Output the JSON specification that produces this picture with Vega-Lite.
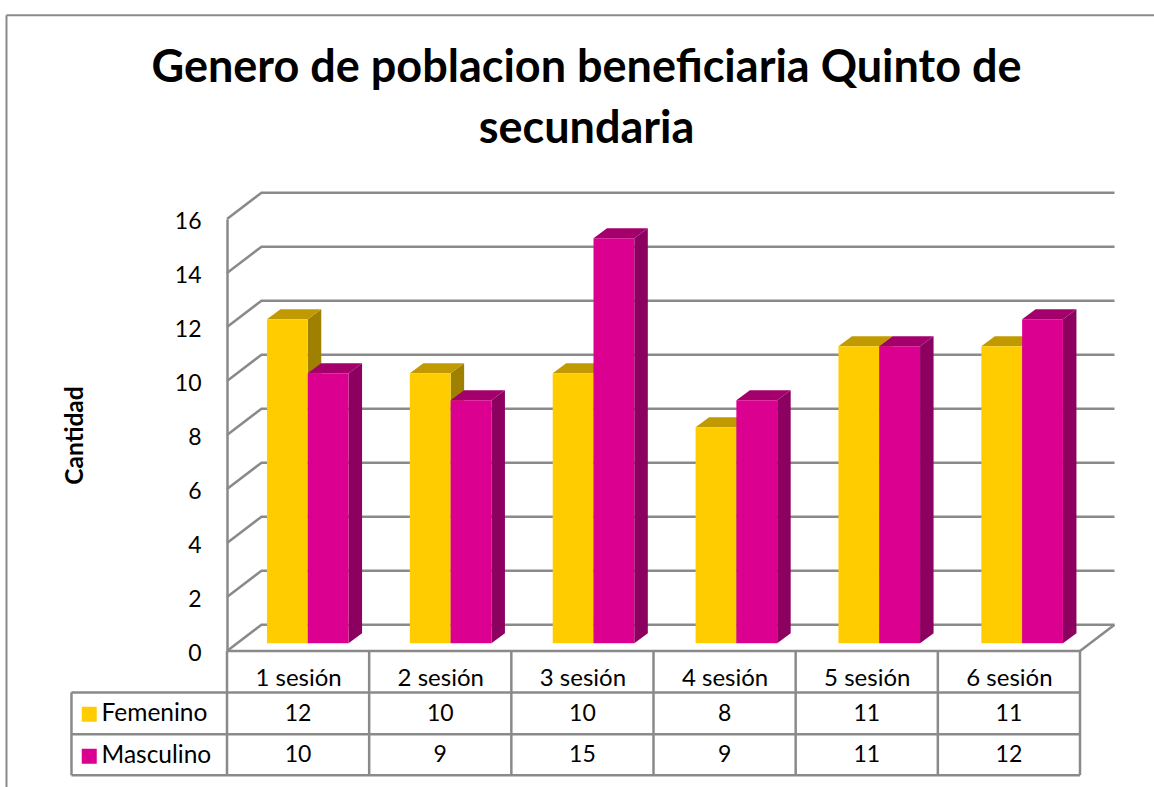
{
"$schema":"https://vega.github.io/schema/vega-lite/v6.json",
"width":853,"height":432,
"autosize":{"type":"none"},
"padding":{"left":227,"top":219,"right":74,"bottom":136},
"background":"white",
"view":{"stroke":null},
"title":{"text":["Genero de poblacion beneficiaria Quinto de","secundaria"],"font":"Lato","fontSize":45,"fontWeight":"bold","color":"black","anchor":"middle","dx":-67,"offset":-138,"lineHeight":61},
"datasets":{
"barras":[
{"sesion":"1 sesión","idx":0,"genero":"Femenino","valor":12},{"sesion":"1 sesión","idx":0,"genero":"Masculino","valor":10},
{"sesion":"2 sesión","idx":1,"genero":"Femenino","valor":10},{"sesion":"2 sesión","idx":1,"genero":"Masculino","valor":9},
{"sesion":"3 sesión","idx":2,"genero":"Femenino","valor":10},{"sesion":"3 sesión","idx":2,"genero":"Masculino","valor":15},
{"sesion":"4 sesión","idx":3,"genero":"Femenino","valor":8},{"sesion":"4 sesión","idx":3,"genero":"Masculino","valor":9},
{"sesion":"5 sesión","idx":4,"genero":"Femenino","valor":11},{"sesion":"5 sesión","idx":4,"genero":"Masculino","valor":11},
{"sesion":"6 sesión","idx":5,"genero":"Femenino","valor":11},{"sesion":"6 sesión","idx":5,"genero":"Masculino","valor":12}
],
"grid":[{"valor":0},{"valor":2},{"valor":4},{"valor":6},{"valor":8},{"valor":10},{"valor":12},{"valor":14},{"valor":16}],
"columnas":[{"col":0},{"col":1},{"col":2},{"col":3},{"col":4},{"col":5},{"col":6}],
"filas":[{"fila":0},{"fila":1},{"fila":2},{"fila":3}],
"bordes":[{"borde":"superior"},{"borde":"izquierdo"}]
},
"encoding":{
"x":{"field":"px","type":"quantitative","scale":{"domain":[0,6],"nice":false,"zero":false},
"axis":{"title":null,"values":[0.5,1.5,2.5,3.5,4.5,5.5],"labelExpr":"(datum.value+0.5)+' sesión'","domain":false,"ticks":false,"grid":false,"labelFont":"Lato","labelFontSize":24,"labelColor":"black","labelPadding":15}},
"y":{"field":"py","type":"quantitative","scale":{"domain":[0,16],"nice":false,"zero":false},
"axis":{"title":"Cantidad","titleFont":"Lato","titleFontSize":24.5,"titleFontWeight":"bold","titleColor":"black","titlePadding":87,"values":[0,2,4,6,8,10,12,14,16],"grid":false,"ticks":false,"domain":true,"domainColor":"#8a8a8a","domainWidth":2.5,"labelFont":"Lato","labelFontSize":23,"labelColor":"black","labelPadding":26,"labelOffset":2.5}}
},
"layer":[
{"data":{"name":"grid"},
"transform":[{"calculate":"[0,1,2]","as":"t"},{"flatten":["t"]},{"calculate":"datum.t==0?0:(datum.t==1?0.2427:6.2427)","as":"px"},{"calculate":"datum.valor+(datum.t==0?0:0.975)","as":"py"}],
"mark":{"type":"line","color":"#8a8a8a","strokeWidth":2.5,"interpolate":"linear"},
"encoding":{"detail":{"field":"valor"},"order":{"field":"t"}}},
{"data":{"name":"grid"},
"transform":[{"filter":"datum.valor==0"},{"calculate":"[0,1]","as":"t"},{"flatten":["t"]},{"calculate":"6+datum.t*0.2427","as":"px"},{"calculate":"datum.t*0.975","as":"py"}],
"mark":{"type":"line","color":"#8a8a8a","strokeWidth":2.5},
"encoding":{"order":{"field":"t"}}},
{"data":{"name":"columnas"},
"transform":[{"calculate":"datum.col","as":"px"},{"calculate":"0","as":"py"},{"calculate":"-4.6","as":"pb"}],
"mark":{"type":"rule","color":"#8a8a8a","strokeWidth":2.5},
"encoding":{"y2":{"field":"pb"}}},
{"data":{"name":"filas"},
"transform":[{"calculate":"datum.fila==0?0:-1.094","as":"px"},{"calculate":"6","as":"pd"},{"calculate":"[0,-1.535,-3.08,-4.6][datum.fila]","as":"py"}],
"mark":{"type":"rule","color":"#8a8a8a","strokeWidth":2.5},
"encoding":{"x2":{"field":"pd"}}},
{"data":{"name":"filas"},
"transform":[{"filter":"datum.fila==1"},{"calculate":"-1.094","as":"px"},{"calculate":"-1.535","as":"py"},{"calculate":"-4.6","as":"pb"}],
"mark":{"type":"rule","color":"#8a8a8a","strokeWidth":2.5},
"encoding":{"y2":{"field":"pb"}}},
{"data":{"name":"bordes"},
"transform":[{"calculate":"-1.551","as":"px"},{"calculate":"datum.borde=='superior'?6.53:-1.551","as":"pd"},{"calculate":"23.55","as":"py"},{"calculate":"datum.borde=='superior'?23.55:-5.1","as":"pb"}],
"mark":{"type":"rule","color":"#8a8a8a","strokeWidth":2},
"encoding":{"x2":{"field":"pd"},"y2":{"field":"pb"}}},

{"data":{"name":"barras"},
"transform":[{"filter":"datum.genero=='Femenino'"},{"calculate":"[0,1]","as":"t"},{"flatten":["t"]},{"calculate":"0.281+1.005*datum.idx+0.287+datum.t*0.095","as":"px"},{"calculate":"0.29+datum.t*0.37","as":"py"},{"calculate":"datum.valor+0.29+datum.t*0.37","as":"ptop"}],
"mark":{"type":"area","color":"#A08000","orient":"vertical"},
"encoding":{"y2":{"field":"ptop"},"detail":{"field":"sesion"}}},
{"data":{"name":"barras"},
"transform":[{"filter":"datum.genero=='Femenino'"},{"calculate":"[0,1]","as":"t"},{"flatten":["t"]},{"calculate":"0.281+1.005*datum.idx+datum.t*0.095","as":"px"},{"calculate":"datum.px+0.287","as":"pd"},{"calculate":"datum.valor+0.29+datum.t*0.37","as":"py"}],
"mark":{"type":"area","color":"#C09A00","orient":"horizontal"},
"encoding":{"x2":{"field":"pd"},"detail":{"field":"sesion"}}},
{"data":{"name":"barras"},
"transform":[{"filter":"datum.genero=='Masculino'"},{"calculate":"[0,1]","as":"t"},{"flatten":["t"]},{"calculate":"0.281+1.005*datum.idx+0.574+datum.t*0.095","as":"px"},{"calculate":"0.29+datum.t*0.37","as":"py"},{"calculate":"datum.valor+0.29+datum.t*0.37","as":"ptop"}],
"mark":{"type":"area","color":"#8C0060","orient":"vertical"},
"encoding":{"y2":{"field":"ptop"},"detail":{"field":"sesion"}}},
{"data":{"name":"barras"},
"transform":[{"filter":"datum.genero=='Masculino'"},{"calculate":"[0,1]","as":"t"},{"flatten":["t"]},{"calculate":"0.281+1.005*datum.idx+0.287+datum.t*0.095","as":"px"},{"calculate":"datum.px+0.287","as":"pd"},{"calculate":"datum.valor+0.29+datum.t*0.37","as":"py"}],
"mark":{"type":"area","color":"#A3006C","orient":"horizontal"},
"encoding":{"x2":{"field":"pd"},"detail":{"field":"sesion"}}},
{"data":{"name":"barras"},
"transform":[{"calculate":"0.281+1.005*datum.idx+(datum.genero=='Masculino'?0.287:0)","as":"px"},{"calculate":"datum.px+0.287","as":"pd"},{"calculate":"datum.valor+0.29","as":"py"},{"calculate":"0.29","as":"pb"}],
"mark":{"type":"rect"},
"encoding":{"x2":{"field":"pd"},"y2":{"field":"pb"},
"color":{"field":"genero","type":"nominal","scale":{"domain":["Femenino","Masculino"],"range":["#FFCC00","#DB0090"]},
"legend":{"title":null,"orient":"none","legendX":-150,"legendY":483,"symbolType":"square","symbolSize":225,"symbolStrokeWidth":0,"labelFont":"Lato","labelFontSize":24.5,"labelColor":"black","labelOffset":0,"rowPadding":17,"padding":0}}}},
{"data":{"name":"barras"},
"transform":[{"calculate":"datum.idx+0.5","as":"px"},{"calculate":"datum.genero=='Femenino'?-2.35:-3.87","as":"py"}],
"mark":{"type":"text","font":"Lato","fontSize":23,"color":"black","align":"center","baseline":"middle"},
"encoding":{"text":{"field":"valor","type":"quantitative"}}}
]
}
